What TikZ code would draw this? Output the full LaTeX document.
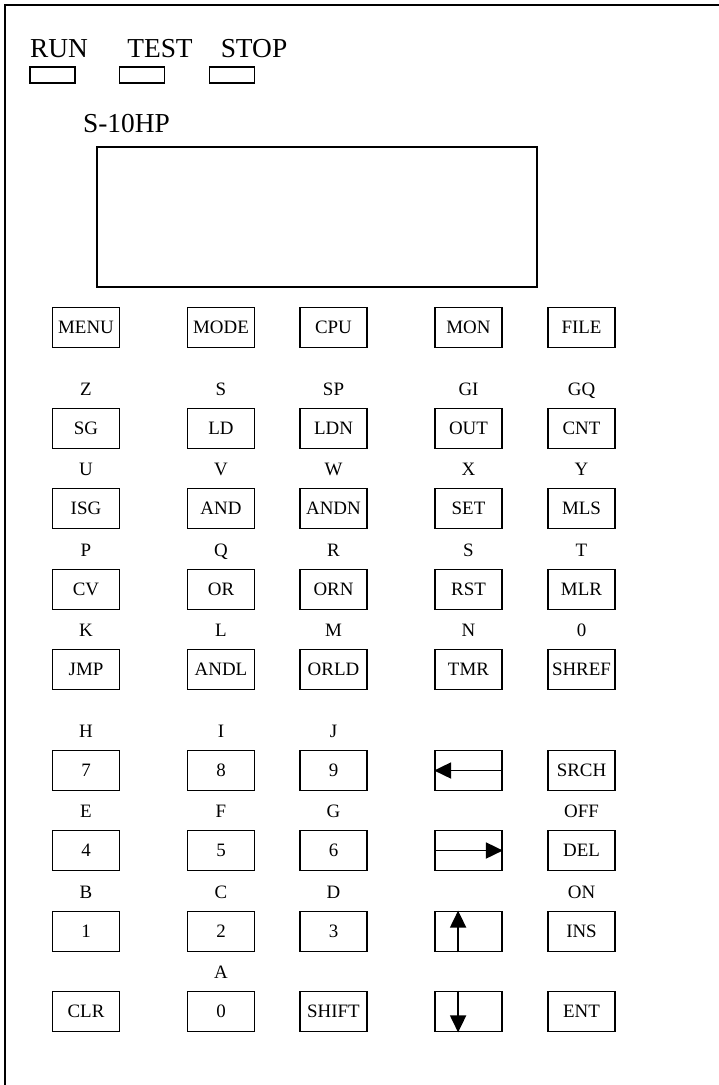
\documentclass[tikz,border=0pt]{standalone}
\usepackage{fontspec}
\setmainfont{Liberation Serif}
\usetikzlibrary{arrows.meta}

\begin{document}
\begin{tikzpicture}[x=1bp,y=-1bp,
  key/.style={draw=black,line width=1.8bp,minimum width=67bp,minimum height=40bp,inner sep=0pt,font=\fontsize{19}{19}\selectfont,text height=12.5bp,text depth=0pt},
  lbl/.style={inner sep=0pt,font=\fontsize{19}{19}\selectfont,text height=12.5bp,text depth=0pt},
  big/.style={inner sep=0pt,font=\fontsize{27.5}{27.5}\selectfont,text height=18.2bp,text depth=0pt},
  led/.style={draw=black,line width=1.4bp,minimum width=45bp,minimum height=16bp,inner sep=0pt},
  arr/.style={line width=1.8bp,-{Triangle[length=17bp,width=16bp]}}]
\useasboundingbox (0,0) rectangle (719,1085);
\draw[line width=2.5bp] (5,1085) -- (5,5) -- (719,5);
% leds
\node[big] (run) at (59,48) {RUN};
\node[big] (test) at (160,48) {TEST};
\node[big] (stop) at (254,48) {STOP};
\node[led] (ledrun) at (52.5,75) {};
\node[led] (ledtest) at (142,75) {};
\node[led] (ledstop) at (232,75) {};
\node[big] (model) at (126.5,123) {S-10HP};
% display
\draw[line width=1.8bp] (97,147) rectangle (537,287);
% function keys
\node[key] (menu) at (86,327.5) {MENU};
\node[key] (mode) at (221,327.5) {MODE};
\node[key] (cpu) at (333.5,327.5) {CPU};
\node[key] (mon) at (468.5,327.5) {MON};
\node[key] (file) at (581.5,327.5) {FILE};
% instruction keys
\node[lbl] (lz) at (86,389) {Z};
\node[lbl] (ls) at (221,389) {S};
\node[lbl] (lsp) at (333.5,389) {SP};
\node[lbl] (lgi) at (468.5,389) {GI};
\node[lbl] (lgq) at (581.5,389) {GQ};
\node[key] (sg) at (86,428.5) {SG};
\node[key] (ld) at (221,428.5) {LD};
\node[key] (ldn) at (333.5,428.5) {LDN};
\node[key] (out) at (468.5,428.5) {OUT};
\node[key] (cnt) at (581.5,428.5) {CNT};
\node[lbl] (lu) at (86,469) {U};
\node[lbl] (lv) at (221,469) {V};
\node[lbl] (lw) at (333.5,469) {W};
\node[lbl] (lx) at (468.5,469) {X};
\node[lbl] (ly) at (581.5,469) {Y};
\node[key] (isg) at (86,508.5) {ISG};
\node[key] (and) at (221,508.5) {AND};
\node[key] (andn) at (333.5,508.5) {ANDN};
\node[key] (set) at (468.5,508.5) {SET};
\node[key] (mls) at (581.5,508.5) {MLS};
\node[lbl] (lp) at (86,550) {P};
\node[lbl] (lq) at (221,550) {Q};
\node[lbl] (lr) at (333.5,550) {R};
\node[lbl] (ls2) at (468.5,550) {S};
\node[lbl] (lt) at (581.5,550) {T};
\node[key] (cv) at (86,589.5) {CV};
\node[key] (or) at (221,589.5) {OR};
\node[key] (orn) at (333.5,589.5) {ORN};
\node[key] (rst) at (468.5,589.5) {RST};
\node[key] (mlr) at (581.5,589.5) {MLR};
\node[lbl] (lk) at (86,630) {K};
\node[lbl] (ll) at (221,630) {L};
\node[lbl] (lm) at (333.5,630) {M};
\node[lbl] (ln) at (468.5,630) {N};
\node[lbl] (lo) at (581.5,630) {0};
\node[key] (jmp) at (86,669.5) {JMP};
\node[key] (andl) at (221,669.5) {ANDL};
\node[key] (orld) at (333.5,669.5) {ORLD};
\node[key] (tmr) at (468.5,669.5) {TMR};
\node[key] (shref) at (581.5,669.5) {SHREF};
% number keys
\node[lbl] (lh) at (86,731) {H};
\node[lbl] (li) at (221,731) {I};
\node[lbl] (lj) at (333.5,731) {J};
\node[key] (k7) at (86,770.5) {7};
\node[key] (k8) at (221,770.5) {8};
\node[key] (k9) at (333.5,770.5) {9};
\node[key] (kleft) at (468.5,770.5) {};
\node[key] (srch) at (581.5,770.5) {SRCH};
\node[lbl] (le) at (86,811) {E};
\node[lbl] (lf) at (221,811) {F};
\node[lbl] (lg) at (333.5,811) {G};
\node[lbl] (loff) at (581.5,811) {OFF};
\node[key] (k4) at (86,850.5) {4};
\node[key] (k5) at (221,850.5) {5};
\node[key] (k6) at (333.5,850.5) {6};
\node[key] (kright) at (468.5,850.5) {};
\node[key] (del) at (581.5,850.5) {DEL};
\node[lbl] (lb) at (86,892) {B};
\node[lbl] (lc) at (221,892) {C};
\node[lbl] (ld2) at (333.5,892) {D};
\node[lbl] (lon) at (581.5,892) {ON};
\node[key] (k1) at (86,931.5) {1};
\node[key] (k2) at (221,931.5) {2};
\node[key] (k3) at (333.5,931.5) {3};
\node[key] (kup) at (468.5,931.5) {};
\node[key] (ins) at (581.5,931.5) {INS};
\node[lbl] (la) at (221,972) {A};
\node[key] (clr) at (86,1011.5) {CLR};
\node[key] (k0) at (221,1011.5) {0};
\node[key] (shift) at (333.5,1011.5) {SHIFT};
\node[key] (kdown) at (468.5,1011.5) {};
\node[key] (ent) at (581.5,1011.5) {ENT};
% arrows
\draw[arr] (kleft.east) -- (kleft.west);
\draw[arr] (kright.west) -- (kright.east);
\draw[arr] ([xshift=24bp]kup.south west) -- ([xshift=24bp]kup.north west);
\draw[arr] ([xshift=24bp]kdown.north west) -- ([xshift=24bp]kdown.south west);
\end{tikzpicture}
\end{document}
